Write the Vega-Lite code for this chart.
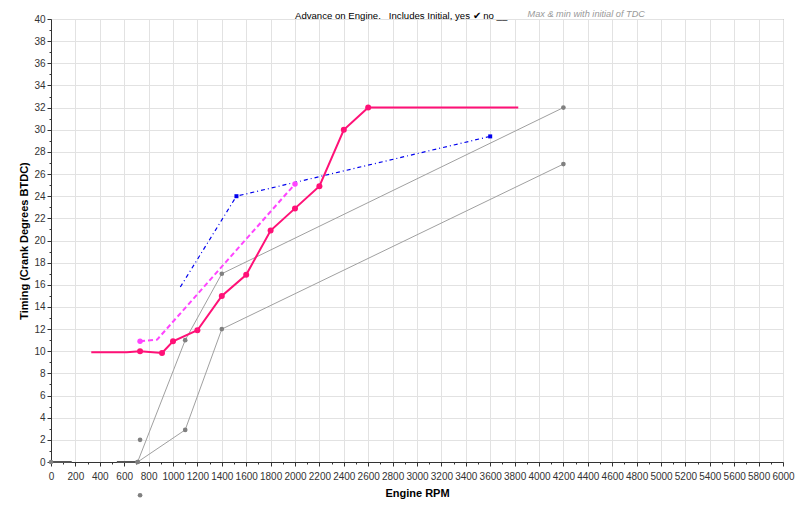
{
  "$schema": "https://vega.github.io/schema/vega-lite/v6.json",
  "width": 732,
  "height": 443,
  "autosize": {"type": "none"},
  "padding": {"left": 51, "top": 19, "right": 17, "bottom": 44},
  "background": "white",
  "config": {
    "font": "Liberation Sans",
    "view": {"stroke": "#808080", "strokeWidth": 1},
    "axis": {"labelFont": "Liberation Sans", "labelFontSize": 10, "labelColor": "#333", "titleFont": "Liberation Sans", "titleFontSize": 11, "titleFontWeight": "bold", "titleColor": "#000", "domainColor": "#333", "tickColor": "#333", "gridColor": "#e2e2e2", "labelOverlap": false, "labelBound": false, "labelFlush": false}
  },
  "title": {"text": "Advance on Engine.\u00a0\u00a0\u00a0Includes Initial, yes \u2714 no __", "anchor": "start", "frame": "group", "dx": 244, "dy": 10, "offset": -12, "fontSize": 9.6, "fontWeight": "normal", "font": "Liberation Sans", "color": "#000", "baseline": "bottom"},
  "datasets": {
    "pts": [
      {"series": "max", "rpm": 710, "deg": 0, "pt": true},
      {"series": "max", "rpm": 1100, "deg": 11, "pt": true},
      {"series": "max", "rpm": 1400, "deg": 17, "pt": true},
      {"series": "max", "rpm": 4200, "deg": 32, "pt": true},
      {"series": "min", "rpm": 710, "deg": 0, "pt": true},
      {"series": "min", "rpm": 1100, "deg": 2.9, "pt": true},
      {"series": "min", "rpm": 1400, "deg": 12, "pt": true},
      {"series": "min", "rpm": 4200, "deg": 26.9, "pt": true},
      {"series": "iso", "rpm": 730, "deg": 2, "pt": true},
      {"series": "iso", "rpm": 730, "deg": -3, "pt": true},
      {"series": "zero1", "rpm": 0, "deg": 0, "pt": true},
      {"series": "zero1", "rpm": 170, "deg": 0, "pt": false},
      {"series": "zero2", "rpm": 540, "deg": 0, "pt": false},
      {"series": "zero2", "rpm": 700, "deg": 0, "pt": false},
      {"series": "adv", "rpm": 330, "deg": 9.9, "pt": false},
      {"series": "adv", "rpm": 620, "deg": 9.92, "pt": false},
      {"series": "adv", "rpm": 730, "deg": 10, "pt": true},
      {"series": "adv", "rpm": 910, "deg": 9.85, "pt": true},
      {"series": "adv", "rpm": 1000, "deg": 10.9, "pt": true},
      {"series": "adv", "rpm": 1200, "deg": 11.9, "pt": true},
      {"series": "adv", "rpm": 1400, "deg": 15, "pt": true},
      {"series": "adv", "rpm": 1600, "deg": 16.9, "pt": true},
      {"series": "adv", "rpm": 1800, "deg": 20.9, "pt": true},
      {"series": "adv", "rpm": 2000, "deg": 22.9, "pt": true},
      {"series": "adv", "rpm": 2200, "deg": 24.9, "pt": true},
      {"series": "adv", "rpm": 2400, "deg": 30, "pt": true},
      {"series": "adv", "rpm": 2600, "deg": 32, "pt": true},
      {"series": "adv", "rpm": 3830, "deg": 32, "pt": false},
      {"series": "mag", "rpm": 730, "deg": 10.9, "pt": true},
      {"series": "mag", "rpm": 870, "deg": 11.05, "pt": false},
      {"series": "mag", "rpm": 2000, "deg": 25.1, "pt": true},
      {"series": "blue", "rpm": 1060, "deg": 15.8, "pt": false},
      {"series": "blue", "rpm": 1520, "deg": 24, "pt": true},
      {"series": "blue", "rpm": 3600, "deg": 29.4, "pt": true}
    ]
  },
  "data": {"name": "pts"},
  "resolve": {"axis": {"x": "independent", "y": "independent"}},
  "layer": [
    {
      "transform": [{"filter": "datum.series === 'max' || datum.series === 'min'"}],
      "mark": {"type": "line", "color": "#a0a0a0", "strokeWidth": 1, "clip": false},
      "encoding": {
        "detail": {"field": "series"},
        "x": {"field": "rpm", "type": "quantitative", "scale": {"domain": [0, 6000], "nice": false, "zero": false},
          "axis": {"title": "Engine RPM", "titlePadding": 6, "format": "d",
            "values": [0,100,200,300,400,500,600,700,800,900,1000,1100,1200,1300,1400,1500,1600,1700,1800,1900,2000,2100,2200,2300,2400,2500,2600,2700,2800,2900,3000,3100,3200,3300,3400,3500,3600,3700,3800,3900,4000,4100,4200,4300,4400,4500,4600,4700,4800,4900,5000,5100,5200,5300,5400,5500,5600,5700,5800,5900,6000],
            "labelExpr": "datum.value % 200 === 0 ? datum.label : ''",
            "tickSize": {"condition": {"test": "datum.value % 200 !== 0", "value": 2}, "value": 4},
            "gridOpacity": {"condition": {"test": "datum.value % 200 !== 0", "value": 0}, "value": 1},
            "labelPadding": 5}},
        "y": {"field": "deg", "type": "quantitative", "scale": {"domain": [0, 40], "nice": false, "zero": false},
          "axis": {"title": "Timing (Crank Degrees BTDC)", "titlePadding": 4,
            "values": [0,1,2,3,4,5,6,7,8,9,10,11,12,13,14,15,16,17,18,19,20,21,22,23,24,25,26,27,28,29,30,31,32,33,34,35,36,37,38,39,40],
            "labelExpr": "datum.value % 2 === 0 ? datum.label : ''",
            "tickSize": {"condition": {"test": "datum.value % 2 !== 0", "value": 2}, "value": 4},
            "gridOpacity": {"condition": {"test": "datum.value % 2 !== 0", "value": 0}, "value": 1},
            "labelPadding": 2}}
      }
    },
    {
      "transform": [{"filter": "datum.series === 'zero1' || datum.series === 'zero2'"}],
      "mark": {"type": "line", "color": "#555555", "strokeWidth": 2, "clip": false},
      "encoding": {
        "detail": {"field": "series"},
        "x": {"field": "rpm", "type": "quantitative", "axis": null},
        "y": {"field": "deg", "type": "quantitative", "axis": null}
      }
    },
    {
      "transform": [{"filter": "(datum.series === 'max' || datum.series === 'min' || datum.series === 'iso' || datum.series === 'zero1') && datum.pt"}],
      "mark": {"type": "circle", "color": "#808080", "size": 22, "opacity": 1, "clip": false},
      "encoding": {
        "x": {"field": "rpm", "type": "quantitative", "axis": null},
        "y": {"field": "deg", "type": "quantitative", "axis": null}
      }
    },
    {
      "transform": [{"filter": "datum.series === 'blue'"}],
      "mark": {"type": "line", "color": "#0000ee", "strokeWidth": 1.2, "strokeDash": [4, 3, 1, 3], "clip": false},
      "encoding": {
        "x": {"field": "rpm", "type": "quantitative",
          "axis": {"orient": "top", "labels": false, "ticks": false, "domain": false, "grid": false,
            "title": "Max & min with initial of TDC", "titleFontStyle": "italic", "titleFontWeight": "normal",
            "titleColor": "#999999", "titleFontSize": 9.2, "titleX": 476, "titleY": -1, "titleAlign": "left", "titleBaseline": "bottom", "titleAngle": 0}},
        "y": {"field": "deg", "type": "quantitative", "axis": null}
      }
    },
    {
      "transform": [{"filter": "datum.series === 'blue' && datum.pt"}],
      "mark": {"type": "square", "color": "#0000ee", "size": 16, "opacity": 1, "clip": false},
      "encoding": {
        "x": {"field": "rpm", "type": "quantitative", "axis": null},
        "y": {"field": "deg", "type": "quantitative", "axis": null}
      }
    },
    {
      "transform": [{"filter": "datum.series === 'mag'"}],
      "mark": {"type": "line", "color": "#ff44ff", "strokeWidth": 2, "strokeDash": [5, 3], "clip": false},
      "encoding": {
        "x": {"field": "rpm", "type": "quantitative", "axis": null},
        "y": {"field": "deg", "type": "quantitative", "axis": null}
      }
    },
    {
      "transform": [{"filter": "datum.series === 'mag' && datum.pt"}],
      "mark": {"type": "circle", "color": "#ff44ff", "size": 30, "opacity": 1, "clip": false},
      "encoding": {
        "x": {"field": "rpm", "type": "quantitative", "axis": null},
        "y": {"field": "deg", "type": "quantitative", "axis": null}
      }
    },
    {
      "transform": [{"filter": "datum.series === 'adv'"}],
      "mark": {"type": "line", "color": "#ff1177", "strokeWidth": 2, "clip": false},
      "encoding": {
        "x": {"field": "rpm", "type": "quantitative", "axis": null},
        "y": {"field": "deg", "type": "quantitative", "axis": null}
      }
    },
    {
      "transform": [{"filter": "datum.series === 'adv' && datum.pt"}],
      "mark": {"type": "circle", "color": "#ff1177", "size": 36, "opacity": 1, "clip": false},
      "encoding": {
        "x": {"field": "rpm", "type": "quantitative", "axis": null},
        "y": {"field": "deg", "type": "quantitative", "axis": null}
      }
    }
  ]
}
